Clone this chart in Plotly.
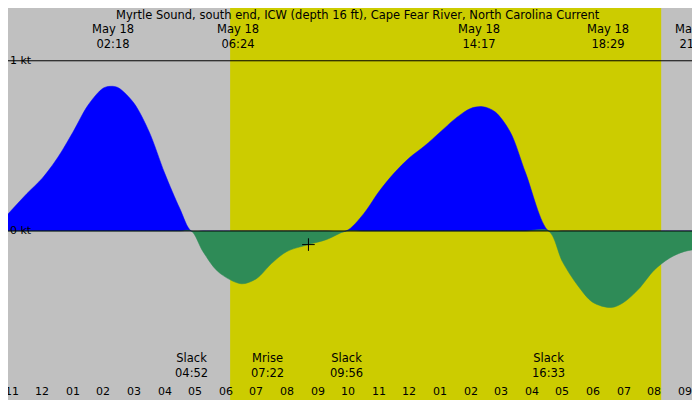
import plotly.graph_objects as go

hours = [-1.12,-0.5,0,0.5,1,1.5,2,2.3,2.5,3,3.5,4,4.5,4.87,5.25,5.75,6.5,7,7.5,8,8.7,9.3,9.93,10.5,11,11.5,12,12.5,13,13.5,14,14.4,14.8,15.3,15.8,16.55,17,17.5,18,18.6,19,19.5,20,20.5,21,21.8]
speed = [0.1,0.22,0.31,0.43,0.58,0.74,0.84,0.85,0.84,0.75,0.58,0.34,0.13,0,-0.12,-0.24,-0.31,-0.28,-0.19,-0.12,-0.08,-0.05,0,0.1,0.23,0.34,0.43,0.5,0.58,0.66,0.72,0.73,0.70,0.58,0.34,0,-0.18,-0.32,-0.42,-0.45,-0.42,-0.34,-0.23,-0.16,-0.12,-0.1]
day_start, day_end = 6.14, 20.23
top_times = [2.3, 6.4, 14.28, 18.48, 21.37]
top_labels = ["May 18<br>02:18","May 18<br>06:24","May 18<br>14:17","May 18<br>18:29","May 18<br>21:22"]
events_t = [-1.4, 4.87, 7.37, 9.93, 16.55]
events_l = ["k<br>2","Slack<br>04:52","Mrise<br>07:22","Slack<br>09:56","Slack<br>16:33"]
tick_h = list(range(-1,22))
tick_l = ["11","12"]+["%02d"%h for h in range(1,12)]+["12"]+["%02d"%h for h in range(1,10)]
mark_t, mark_v = [8.7], [-0.08]

pos = [max(v,0) for v in speed]
neg = [min(v,0) for v in speed]
fig = go.Figure()
fig.add_trace(go.Scatter(x=hours,y=pos,fill='tozeroy',mode='lines',line=dict(color='#0000ff',width=0.5,shape='spline',smoothing=0.9),fillcolor='#0000ff'))
fig.add_trace(go.Scatter(x=hours,y=neg,fill='tozeroy',mode='lines',line=dict(color='#2e8b57',width=0.5,shape='spline',smoothing=0.9),fillcolor='#2e8b57'))
fig.add_trace(go.Scatter(x=mark_t,y=mark_v,mode='markers',marker=dict(symbol='cross-thin',size=9,line=dict(color='black',width=1))))
fig.add_vrect(x0=day_start,x1=day_end,fillcolor='#cccc00',line_width=0,layer='below')
for yv in (0,1):
    fig.add_hline(y=yv,line=dict(color='black',width=1))
fig.add_annotation(x=-1.12,y=0,xref='x',yref='y',text='0 kt',showarrow=False,xanchor='left',yanchor='middle',font=dict(size=11))
fig.add_annotation(x=-1.12,y=1,xref='x',yref='y',text='1 kt',showarrow=False,xanchor='left',yanchor='middle',font=dict(size=11))
fig.add_annotation(x=0.5,y=1.005,xref='paper',yref='paper',text='Myrtle Sound, south end, ICW (depth 16 ft), Cape Fear River, North Carolina Current',showarrow=False,yanchor='top',font=dict(size=11.5))
for t,l in zip(top_times,top_labels):
    fig.add_annotation(x=t,y=0.97,xref='x',yref='paper',text=l,showarrow=False,yanchor='top',font=dict(size=11.5))
for t,l in zip(events_t,events_l):
    fig.add_annotation(x=t,y=0.065,xref='x',yref='paper',text=l,showarrow=False,yanchor='bottom',font=dict(size=11.5))
for t,l in zip(tick_h,tick_l):
    fig.add_annotation(x=t,y=0.02,xref='x',yref='paper',text=l,showarrow=False,yanchor='bottom',font=dict(size=11))
fig.update_layout(width=700,height=400,margin=dict(l=0,r=0,t=0,b=0,autoexpand=False),paper_bgcolor='#c0c0c0',plot_bgcolor='#c0c0c0',showlegend=False,
    font=dict(family='DejaVu Sans',color='black'))
fig.update_xaxes(range=[-1.12,21.76],tickvals=tick_h,ticktext=['']*len(tick_h),ticks='inside',ticklen=6,showgrid=False,zeroline=False,
    minor=dict(dtick=0.5,ticks='inside',ticklen=3,tick0=0))
fig.update_yaxes(range=[-1.04,1.31],visible=False)
fig.write_html("out.html")
